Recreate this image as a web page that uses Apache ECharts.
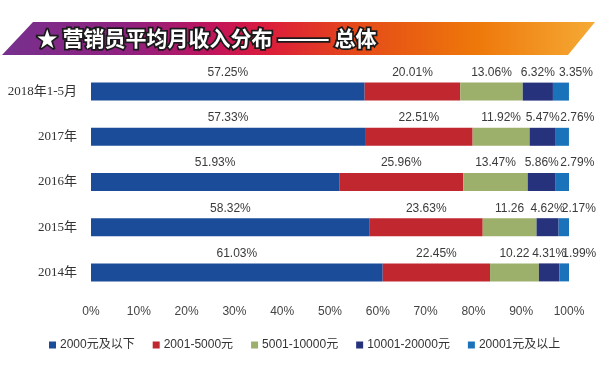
<!DOCTYPE html>
<html>
<head>
<meta charset="utf-8">
<script src="https://cdn.jsdelivr.net/npm/echarts@6/dist/echarts.min.js"></script>
<style>html,body{margin:0;padding:0;background:#fff}#c{width:600px;height:365px}</style>
</head>
<body>
<div id="c"></div>
<script>
const categories = ["2018年1-5月", "2017年", "2016年", "2015年", "2014年"];
const seriesNames = ["2000元及以下", "2001-5000元", "5001-10000元", "10001-20000元", "20001元及以上"];
const s2000 = [57.25, 57.33, 51.93, 58.32, 61.03];
const s5000 = [20.01, 22.51, 25.96, 23.63, 22.45];
const s10000 = [13.06, 11.92, 13.47, 11.26, 10.22];
const s20000 = [6.32, 5.47, 5.86, 4.62, 4.31];
const sAbove = [3.35, 2.76, 2.79, 2.17, 1.99];
// labels as printed (some lack the % sign)
const labels10000 = ["13.06%", "11.92%", "13.47%", "11.26", "10.22"];
const xTicks = [0, 10, 20, 30, 40, 50, 60, 70, 80, 90, 100];

const colors = ["#1b4c9a", "#c1272f", "#9caf6b", "#27327c", "#1a73ba"];
const chart = echarts.init(document.getElementById('c'), null, {renderer: 'canvas'});

const dataSets = [s2000, s5000, s10000, s20000, sAbove];
const offsets = [[0, 0], [0, 0], [0, 0], [0, 0], [15, 0]];
const series = dataSets.map((d, i) => ({
  name: seriesNames[i],
  type: 'bar',
  stack: 'total',
  barWidth: 18,
  data: d,
  itemStyle: {color: colors[i]},
  label: {
    show: true,
    position: 'top',
    distance: 4,
    offset: offsets[i],
    color: '#3a3a3a',
    fontSize: 12,
    fontFamily: 'Liberation Sans, Arial, sans-serif',
    formatter: p => i === 2 ? labels10000[p.dataIndex] : d[p.dataIndex].toFixed(2) + '%'
  }
}));

chart.setOption({
  animation: false,
  color: colors,
  grid: {left: 91, right: 31, top: 69, bottom: 70},
  xAxis: {
    type: 'value', min: xTicks[0], max: xTicks[xTicks.length - 1], interval: 10,
    axisLine: {show: false}, axisTick: {show: false}, splitLine: {show: false},
    axisLabel: {formatter: '{value}%', color: '#444', fontSize: 12, margin: 11,
      fontFamily: 'Liberation Sans, Arial, sans-serif'}
  },
  yAxis: {
    type: 'category', data: categories, inverse: true,
    axisLine: {show: false}, axisTick: {show: false},
    axisLabel: {color: '#333', fontSize: 13, margin: 14,
      fontFamily: '"Liberation Serif", "Noto Sans CJK SC", serif'}
  },
  legend: {
    data: seriesNames, left: 44, top: 334, itemWidth: 7, itemHeight: 7, itemGap: 18,
    icon: 'rect',
    textStyle: {color: '#333', fontSize: 12, padding: [0, 0, 0, -1],
      fontFamily: '"Liberation Sans", "Noto Sans CJK SC", sans-serif'}
  },
  graphic: [
    {
      type: 'polygon', silent: true,
      shape: {points: [[33, 22], [595, 22], [568, 55], [2, 55]]},
      style: {
        fill: new echarts.graphic.LinearGradient(0, 0, 1, 0, [
          {offset: 0, color: '#76308e'},
          {offset: 0.22, color: '#92207f'},
          {offset: 0.36, color: '#c2145a'},
          {offset: 0.45, color: '#dc1d3a'},
          {offset: 0.6, color: '#e54a18'},
          {offset: 0.8, color: '#ee780a'},
          {offset: 1, color: '#f5aa35'}
        ])
      }
    },
    {
      type: 'text', left: 35, top: 26, silent: true,
      style: {
        text: '★ 营销员平均月收入分布 ——— 总体',
        fill: '#fff', stroke: '#1a1a1a', lineWidth: 3.5,
        font: 'bold 21px "Noto Sans CJK SC", sans-serif'
      }
    }
  ],
  series: series
});
</script>
</body>
</html>
